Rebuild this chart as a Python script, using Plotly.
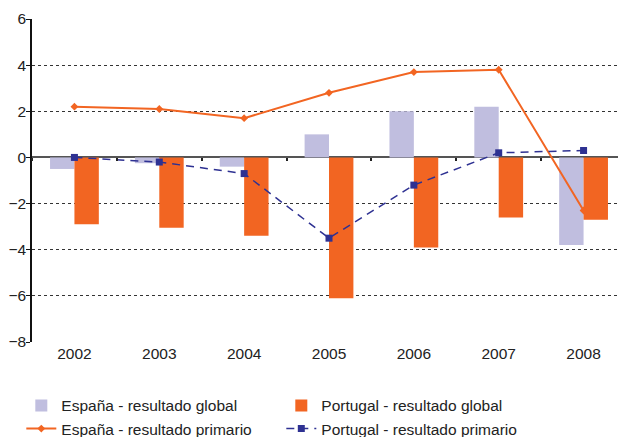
import plotly.graph_objects as go

years = ["2002", "2003", "2004", "2005", "2006", "2007", "2008"]
espana_global = [-0.5, -0.25, -0.4, 1.0, 2.0, 2.2, -3.8]
portugal_global = [-2.9, -3.05, -3.4, -6.1, -3.9, -2.6, -2.7]
espana_primario = [2.2, 2.1, 1.7, 2.8, 3.7, 3.8, -2.3]
portugal_primario = [0.0, -0.2, -0.7, -3.5, -1.2, 0.2, 0.3]
y_ticks = [6, 4, 2, 0, -2, -4, -6, -8]

LAV = "#C0BEDF"
ORG = "#F26522"
BLUE = "#2E3192"
FONT = "Liberation Sans, Arial, sans-serif"

fig = go.Figure()
fig.add_trace(go.Bar(x=years, y=espana_global, name="España - resultado global",
                     marker=dict(color=LAV, line=dict(width=0))))
fig.add_trace(go.Bar(x=years, y=portugal_global, name="Portugal - resultado global",
                     marker=dict(color=ORG, line=dict(width=0))))
fig.add_trace(go.Scatter(x=years, y=espana_primario, name="España - resultado primario",
                         mode="lines+markers",
                         line=dict(color=ORG, width=2),
                         marker=dict(symbol="diamond", size=6, color=ORG)))
fig.add_trace(go.Scatter(x=years, y=portugal_primario, name="Portugal - resultado primario",
                         mode="lines+markers",
                         line=dict(color=BLUE, width=1.5, dash="8px,6px"),
                         marker=dict(symbol="square", size=7, color=BLUE)))
# invisible trace to carry the boundary ticks on the zero line
fig.add_trace(go.Scatter(x=years, y=[0]*len(years), xaxis="x2", mode="markers",
                         marker=dict(opacity=0), showlegend=False, hoverinfo="skip"))

# the page body has an 8px margin, so the figure is sized to fit the window
fig.update_layout(
    width=618, height=429,
    margin=dict(l=24, r=0, t=11, b=95, autoexpand=False),
    paper_bgcolor="white", plot_bgcolor="white",
    barmode="group", bargap=0.425, bargroupgap=0,
    font=dict(family=FONT, size=15.5, color="#222"),
    showlegend=True,
    legend=dict(orientation="h", x=-0.018, xanchor="left", y=-0.145, yanchor="top",
                entrywidth=215, entrywidthmode="pixels",
                font=dict(family=FONT, size=15.5, color="#222"),
                itemwidth=30, tracegroupgap=0, bgcolor="rgba(0,0,0,0)"),
    xaxis=dict(type="category", showgrid=False, showline=False, zeroline=False,
               ticks="", tickfont=dict(size=15.5), automargin=False),
    xaxis2=dict(type="category", overlaying="x", matches="x", anchor="free",
                position=8/14, side="bottom", showline=False, showgrid=False,
                ticks="outside", tickson="boundaries", ticklen=3, tickwidth=1.5,
                tickcolor="#222", showticklabels=False, automargin=False),
    yaxis=dict(range=[-8, 6], tickvals=y_ticks, showgrid=True, gridcolor="#333",
               griddash="3px,3px", gridwidth=1, zeroline=True, zerolinecolor="#555",
               zerolinewidth=2, showline=True, linecolor="#111", linewidth=1.5,
               ticks="outside", ticklen=4, tickcolor="#111", tickfont=dict(size=15.5),
               ticklabelstandoff=-3, automargin=False),
)

fig.write_html("out.html")
